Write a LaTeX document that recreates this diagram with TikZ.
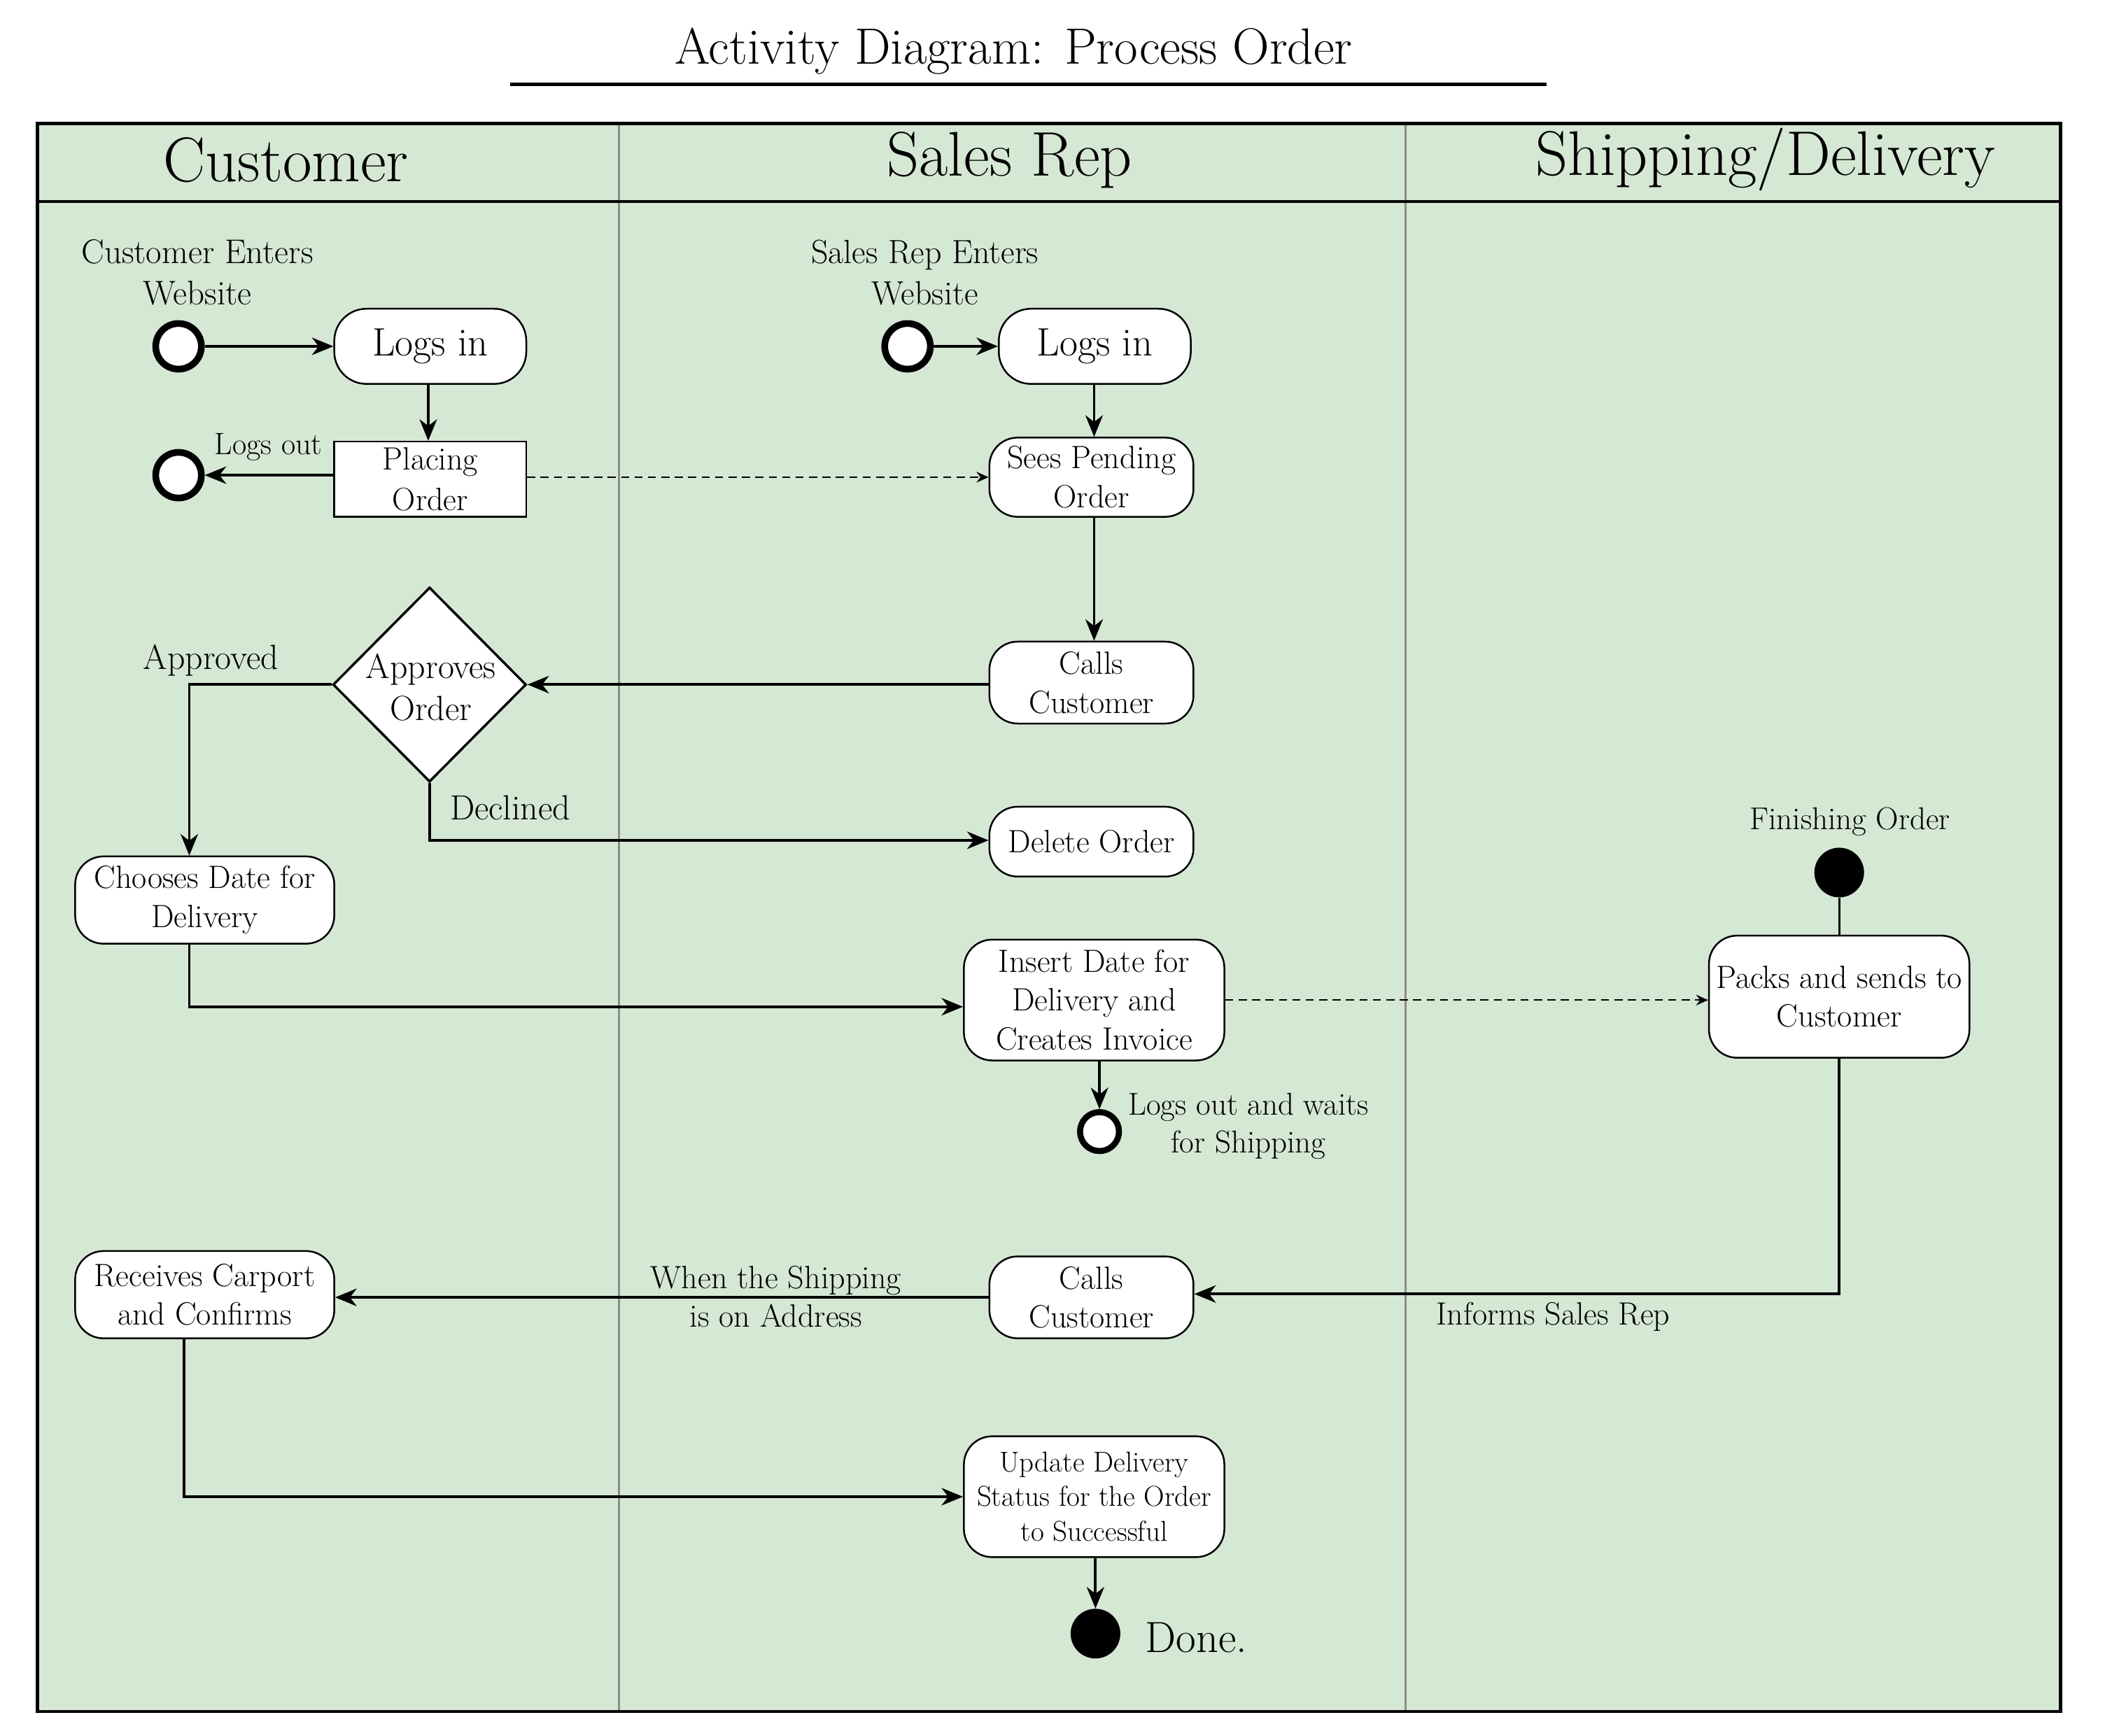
\documentclass[tikz,border=0pt]{standalone}
\usepackage{fontspec}
\usetikzlibrary{arrows.meta,shapes.geometric,calc}
\definecolor{lanegreen}{HTML}{D5E8D4}
\definecolor{lanegray}{HTML}{8C8C8C}
\tikzset{
  act/.style={draw, fill=white, rounded corners=21pt, line width=1.3pt, align=center, inner sep=0pt,
    font=\fontsize{24}{29}\selectfont},
  plainbox/.style={draw, fill=white, line width=1.3pt, align=center, inner sep=0pt,
    font=\fontsize{24}{30.5}\selectfont},
  startc/.style={circle, draw, fill=white, line width=5pt, minimum size=34pt, inner sep=0pt},
  smallc/.style={circle, draw, fill=white, line width=4.5pt, minimum size=29pt, inner sep=0pt},
  finalc/.style={circle, fill=black, minimum size=37pt, inner sep=0pt},
  lbl/.style={align=center, inner sep=0pt, font=\fontsize{24}{30.5}\selectfont},
  hdr/.style={inner sep=0pt, font=\fontsize{47}{52}\selectfont},
  arr/.style={line width=2pt, -{Stealth[length=16pt,width=13pt,inset=5pt]}},
  dasharr/.style={line width=0.9pt, dash pattern=on 6pt off 4pt, -{Stealth[length=9pt,width=8pt,inset=3pt]}},
  link/.style={line width=1.5pt},
}
\begin{document}
\begin{tikzpicture}[x=1pt,y=-1pt]
\useasboundingbox (0,0) rectangle (1568,1293);
\fill[white] (0,0) rectangle (1568,1293);
% title
\node[inner sep=0pt, font=\fontsize{38}{42}\selectfont] (title) at (755,38) {Activity Diagram: Process Order};
\coordinate (ulA) at (380,63);
\coordinate (ulB) at (1152,63);
\draw[line width=2.5pt] (ulA) -- (ulB);
% frame and lanes
\coordinate (frTL) at (28,92);
\coordinate (frBR) at (1535,1275);
\fill[lanegreen] (frTL) rectangle (frBR);
\coordinate (d1t) at (461,92); \coordinate (d1b) at (461,1275);
\coordinate (d2t) at (1047,92); \coordinate (d2b) at (1047,1275);
\draw[lanegray, line width=1.6pt] (d1t) -- (d1b);
\draw[lanegray, line width=1.6pt] (d2t) -- (d2b);
\coordinate (hsL) at (28,150); \coordinate (hsR) at (1535,150);
\draw[line width=2.2pt] (hsL) -- (hsR);
\draw[line width=2.5pt] (frTL) rectangle (frBR);
% headers
\node[hdr] (hCust) at (213,119) {Customer};
\node[hdr] (hSales) at (752,119) {Sales Rep};
\node[hdr] (hShip) at (1315,119) {Shipping/Delivery};

% ---- Customer lane
\node[lbl, font=\fontsize{25.5}{31}\selectfont] (lCE) at (147,203) {Customer Enters\\Website};
\node[startc] (s1) at (133,258) {};
\node[act, minimum width=143pt, minimum height=56pt, rounded corners=24pt, font=\fontsize{29.5}{34}\selectfont] (login1) at (320.5,258) {Logs in};
\node[plainbox, minimum width=143pt, minimum height=56pt] (place) at (320.5,357) {Placing\\Order};
\node[startc] (end1) at (133,354) {};
\node[lbl, font=\fontsize{23}{27}\selectfont] (lLO) at (200,333) {Logs out};
\node[diamond, draw, fill=white, line width=1.8pt, minimum width=144pt, minimum height=145pt, inner sep=0pt] (dia) at (320,510) {};
\node[lbl, font=\fontsize{26}{31}\selectfont] (diaT) at (321,512) {Approves\\Order};
\node[lbl, font=\fontsize{26}{30}\selectfont] (lApp) at (157,492) {Approved};
\node[lbl, font=\fontsize{26}{30}\selectfont] (lDec) at (380,602) {Declined};
\node[act, minimum width=193pt, minimum height=65pt] (choose) at (152.5,670.5) {Chooses Date for\\Delivery};
\node[act, minimum width=193pt, minimum height=65pt] (receive) at (152.5,964.5) {Receives Carport\\and Confirms};

% ---- Sales Rep lane
\node[lbl, font=\fontsize{25}{31}\selectfont] (lSE) at (689,203) {Sales Rep Enters\\Website};
\node[startc] (s2) at (676,258) {};
\node[act, minimum width=143pt, minimum height=56pt, rounded corners=24pt, font=\fontsize{29.5}{34}\selectfont] (login2) at (815.5,258) {Logs in};
\node[act, minimum width=152pt, minimum height=59pt] (sees) at (813,355.5) {Sees Pending\\Order};
\node[act, minimum width=152pt, minimum height=61pt] (calls1) at (813,508.5) {Calls\\Customer};
\node[act, minimum width=152pt, minimum height=52pt] (delete) at (813,627) {Delete Order};
\node[act, minimum width=194pt, minimum height=90pt] (insert) at (815,745) {Insert Date for\\Delivery and\\Creates Invoice};
\node[smallc] (end2) at (819,843) {};
\node[lbl, font=\fontsize{23.5}{28.5}\selectfont] (lLW) at (930,839) {Logs out and waits\\for Shipping};
\node[act, minimum width=152pt, minimum height=61pt] (calls2) at (813,966.5) {Calls\\Customer};
\node[lbl, font=\fontsize{24}{29}\selectfont] (lWS) at (578,966) {When the Shipping\\is on Address};
\node[act, minimum width=194pt, minimum height=90pt, font=\fontsize{21.4}{26}\selectfont] (update) at (815,1115) {Update Delivery\\Status for the Order\\to Successful};
\node[finalc] (done) at (816,1217) {};
\node[inner sep=0pt, anchor=west, font=\fontsize{32.5}{36}\selectfont] (lDone) at (853,1220) {Done.};

% ---- Shipping lane
\node[lbl, font=\fontsize{23.5}{28}\selectfont] (lFO) at (1378,612) {Finishing Order};
\node[finalc] (fin) at (1370,650) {};
\node[act, minimum width=194pt, minimum height=91pt] (packs) at (1370,742.5) {Packs and sends to\\Customer};
\node[lbl, font=\fontsize{24}{28}\selectfont] (lIS) at (1157,981) {Informs Sales Rep};

% ---- connectors
\draw[arr] (s1) -- (login1);
\draw[arr] (login1.south -| 319,0) -- (place.north -| 319,0);
\draw[arr] (place.west |- end1) -- (end1);
\draw[dasharr] (place.east |- sees.west) -- (sees.west);
\draw[arr] (s2) -- (login2);
\draw[arr] (login2.south -| 815,0) -- (sees.north -| 815,0);
\draw[arr] (sees.south -| 815,0) -- (calls1.north -| 815,0);
\draw[arr] (calls1.west |- dia.east) -- (dia.east);
\coordinate (cA) at (141,510);
\draw[arr] (dia.west) -- (cA) -- (choose.north -| cA);
\coordinate (cB) at (320,626);
\draw[arr] (dia.south) -- (cB) -- (delete.west |- cB);
\coordinate (cC) at (141,750);
\draw[arr] (choose.south -| cC) -- (cC) -- (insert.west |- cC);
\draw[dasharr] (insert.east) -- (packs.west |- insert.east);
\draw[arr] (insert.south -| end2) -- (end2);
\draw[link] (fin) -- (packs);
\coordinate (cD) at (1370,964);
\draw[arr] (packs.south) -- (cD) -- (calls2.east |- cD);
\draw[arr] (calls2.west) -- (receive.east |- calls2.west);
\coordinate (cE) at (137,1115);
\draw[arr] (receive.south -| cE) -- (cE) -- (update.west |- cE);
\draw[arr] (update.south -| done) -- (done);
\end{tikzpicture}
\end{document}
